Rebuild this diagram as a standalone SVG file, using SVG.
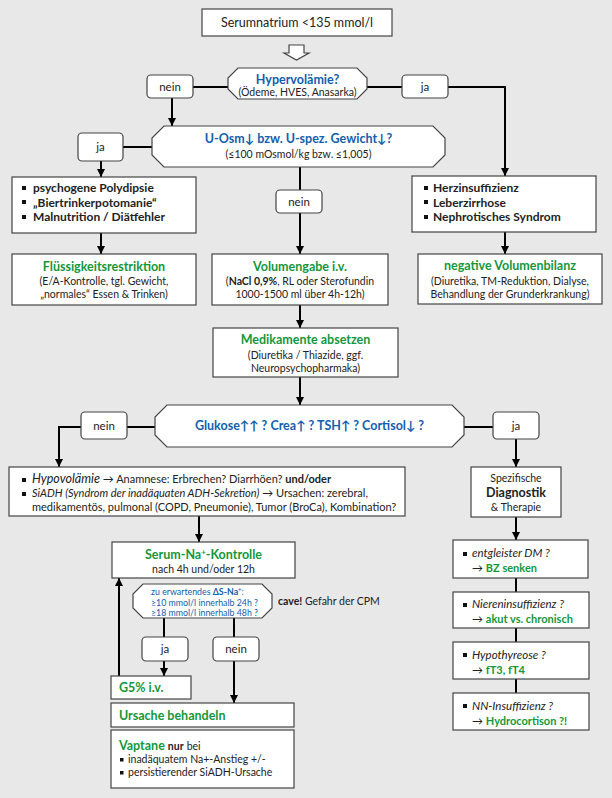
<svg xmlns="http://www.w3.org/2000/svg" width="612" height="798" viewBox="0 0 612 798">
<defs>
<marker id="ah" markerUnits="userSpaceOnUse" markerWidth="9" markerHeight="9" refX="8" refY="4.5" orient="auto">
<path d="M0,0.5 L8,4.5 L0,8.5 Z" fill="#000"/>
</marker>
<style>
text{font-family:Lato,"Open Sans","Liberation Sans",sans-serif;fill:#222;}
.box{fill:#fff;stroke:#444;stroke-width:1.2;}
.lbl{fill:#fff;stroke:#444;stroke-width:1.2;}
.c{fill:none;stroke:#000;stroke-width:2;}
.a{marker-end:url(#ah);}
.t{font-size:12.5px;font-weight:bold;}
.blue{fill:#1160ad;}
.green{fill:#14973a;}
.s{font-size:10.5px;}
.b{font-size:12px;font-weight:bold;}
.m{text-anchor:middle;}
.bul{fill:#111;}
</style>
</defs>
<rect width="612" height="798" fill="#e8e8e8"/>

<g id="connectors">
<path class="c" d="M193 87 H228"/>
<path class="c" d="M367 87 H402"/>
<path class="c a" d="M448 87 H505 V176"/>
<path class="c a" d="M172 98 V126"/>
<path class="c" d="M123 147 H152"/>
<path class="c a" d="M101 161 V177"/>
<path class="c" d="M300 167 V190"/>
<path class="c a" d="M300 213 V254"/>
<path class="c a" d="M101 233 V254"/>
<path class="c a" d="M505 232 V254"/>
<path class="c a" d="M300 305 V328"/>
<path class="c a" d="M300 377 V405"/>
<path class="c" d="M155 427 H127"/>
<path class="c a" d="M81 427 H59 V467"/>
<path class="c" d="M464 427 H493"/>
<path class="c a" d="M516 439 V467"/>
<path class="c a" d="M516 517 V540"/>
<path class="c" d="M516 578 V592"/>
<path class="c" d="M516 628 V642"/>
<path class="c" d="M516 679 V693"/>
<path class="c a" d="M199 516 V542"/>
<path class="c" d="M164 618 V637"/>
<path class="c" d="M234 618 V637"/>
<path class="c a" d="M164 661 V676"/>
<path class="c a" d="M234 661 V703"/>
<path class="c a" d="M119 676 V578"/>
</g>

<g id="start">
<rect class="box" x="202" y="9" width="190" height="27"/>
<text class="m" x="297" y="27" font-size="12.5">Serumnatrium &lt;135 mmol/l</text>
<path d="M289 45 H304 V53 H309 L296.5 60 L284 53 H289 Z" fill="#fff" stroke="#444" stroke-width="1.2"/>
</g>

<g id="hypervol">
<path class="box" d="M238 68 H357 L367 78 V89 L357 99 H238 L228 89 V78 Z"/>
<text class="m t blue" x="297.5" y="84">Hypervolämie?</text>
<text class="m s" x="297.5" y="95.5">(Ödeme, HVES, Anasarka)</text>
</g>
<g id="nein1"><rect class="lbl" x="147" y="75" width="46" height="23" rx="4"/><text class="m" x="170" y="91" font-size="11.5">nein</text></g>
<g id="ja1"><rect class="lbl" x="402" y="75" width="46" height="23" rx="4"/><text class="m" x="425" y="91" font-size="11.5">ja</text></g>

<g id="uosm">
<path class="box" d="M164 126 H433 L445 138 V155 L433 167 H164 L152 155 V138 Z"/>
<text class="m t blue" x="298.5" y="143">U-Osm↓ bzw. U-spez. Gewicht↓?</text>
<text class="m s" x="298.5" y="158">(≤100 mOsmol/kg bzw. ≤1,005)</text>
</g>
<g id="ja2"><rect class="lbl" x="78" y="133" width="45" height="28" rx="4"/><text class="m" x="100.5" y="151" font-size="11.5">ja</text></g>
<g id="nein2"><rect class="lbl" x="276" y="190" width="46" height="23" rx="4"/><text class="m" x="299" y="206" font-size="11.5">nein</text></g>

<g id="psycho">
<rect class="box" x="12" y="177" width="184" height="56"/>
<rect class="bul" x="22" y="186" width="4" height="4"/>
<rect class="bul" x="22" y="200" width="4" height="4"/>
<rect class="bul" x="22" y="215" width="4" height="4"/>
<text class="b" x="33" y="192">psychogene Polydipsie</text>
<text class="b" x="33" y="206.5">„Biertrinkerpotomanie“</text>
<text class="b" x="33" y="221">Malnutrition / Diätfehler</text>
</g>

<g id="herz">
<rect class="box" x="412" y="176" width="184" height="56"/>
<rect class="bul" x="424" y="186" width="4" height="4"/>
<rect class="bul" x="424" y="200" width="4" height="4"/>
<rect class="bul" x="424" y="215" width="4" height="4"/>
<text class="b" x="433" y="192">Herzinsuffizienz</text>
<text class="b" x="433" y="206.5">Leberzirrhose</text>
<text class="b" x="433" y="221">Nephrotisches Syndrom</text>
</g>

<g id="fluessig">
<rect class="box" x="12" y="254" width="184" height="51"/>
<text class="m t green" x="104" y="271">Flüssigkeitsrestriktion</text>
<text class="m s" x="104" y="285">(E/A-Kontrolle, tgl. Gewicht,</text>
<text class="m s" x="104" y="298">„normales“ Essen &amp; Trinken)</text>
</g>

<g id="volumen">
<rect class="box" x="212" y="254" width="176" height="51"/>
<text class="m t green" x="300" y="271">Volumengabe i.v.</text>
<text class="m s" x="300" y="285">(<tspan font-weight="bold">NaCl 0,9%</tspan>, RL oder Sterofundin</text>
<text class="m s" x="300" y="298">1000-1500 ml über 4h-12h)</text>
</g>

<g id="negvol">
<rect class="box" x="418" y="254" width="184" height="50"/>
<text class="m t green" x="510" y="270">negative Volumenbilanz</text>
<text class="m s" x="510" y="284.5">(Diuretika, TM-Reduktion, Dialyse,</text>
<text class="m s" x="510" y="297.5">Behandlung der Grunderkrankung)</text>
</g>

<g id="medikamente">
<rect class="box" x="213" y="328" width="185" height="49"/>
<text class="m t green" x="305.5" y="344">Medikamente absetzen</text>
<text class="m s" x="305.5" y="358.5">(Diuretika / Thiazide, ggf.</text>
<text class="m s" x="305.5" y="371.5">Neuropsychopharmaka)</text>
</g>

<g id="glukose">
<path class="box" d="M167 405 H452 L464 417 V435 L452 447 H167 L155 435 V417 Z"/>
<text class="m t blue" x="309.5" y="430">Glukose↑↑ ? Crea↑ ? TSH↑ ? Cortisol↓ ?</text>
</g>
<g id="nein3"><rect class="lbl" x="81" y="412" width="46" height="27" rx="4"/><text class="m" x="104" y="430" font-size="11.5">nein</text></g>
<g id="ja3"><rect class="lbl" x="493" y="412" width="46" height="27" rx="4"/><text class="m" x="516" y="430" font-size="11.5">ja</text></g>

<g id="hypovol">
<rect class="box" x="9" y="467" width="396" height="49"/>
<rect class="bul" x="22" y="478" width="4" height="4"/>
<rect class="bul" x="22" y="492" width="4" height="4"/>
<text x="32" y="483" font-size="11"><tspan font-style="italic" font-size="12.5">Hypovolämie</tspan> → Anamnese: Erbrechen? Diarrhöen? <tspan font-weight="bold">und/oder</tspan></text>
<text x="32" y="497" font-size="11"><tspan font-style="italic">SiADH (Syndrom der inadäquaten ADH-Sekretion)</tspan> → Ursachen: zerebral,</text>
<text x="32" y="510.5" font-size="11">medikamentös, pulmonal (COPD, Pneumonie), Tumor (BroCa), Kombination?</text>
</g>

<g id="spezifisch">
<rect class="box" x="471" y="467" width="90" height="50"/>
<text class="m" x="516" y="482" font-size="10.5">Spezifische</text>
<text class="m" x="516" y="497" font-size="12.5" font-weight="bold">Diagnostik</text>
<text class="m" x="516" y="511" font-size="10.5">&amp; Therapie</text>
</g>

<g id="dm">
<rect class="box" x="453" y="540" width="135" height="38"/>
<rect class="bul" x="463" y="552" width="4" height="4"/>
<text x="472" y="557" font-size="11.5" font-style="italic">entgleister DM ?</text>
<text x="472" y="572" font-size="11">→ <tspan class="green" font-weight="bold">BZ senken</tspan></text>
</g>
<g id="niere">
<rect class="box" x="453" y="592" width="136" height="36"/>
<rect class="bul" x="463" y="603" width="4" height="4"/>
<text x="472" y="608" font-size="11.5" font-style="italic">Niereninsuffizienz ?</text>
<text x="472" y="623" font-size="11">→ <tspan class="green" font-weight="bold">akut vs. chronisch</tspan></text>
</g>
<g id="hypothyreose">
<rect class="box" x="453" y="642" width="136" height="37"/>
<rect class="bul" x="463" y="653" width="4" height="4"/>
<text x="472" y="659" font-size="11.5" font-style="italic">Hypothyreose ?</text>
<text x="472" y="673.5" font-size="11">→ <tspan class="green" font-weight="bold">fT3, fT4</tspan></text>
</g>
<g id="nn">
<rect class="box" x="453" y="693" width="136" height="37"/>
<rect class="bul" x="463" y="704" width="4" height="4"/>
<text x="472" y="710" font-size="11.5" font-style="italic">NN-Insuffizienz ?</text>
<text x="472" y="724.5" font-size="11">→ <tspan class="green" font-weight="bold">Hydrocortison ?!</tspan></text>
</g>

<g id="serumna">
<rect class="box" x="112" y="542" width="183" height="36"/>
<text class="m t green" x="203.5" y="559">Serum-Na<tspan font-size="8" dy="-4">+</tspan><tspan dy="4">-Kontrolle</tspan></text>
<text class="m s" x="203.5" y="573">nach 4h und/oder 12h</text>
</g>

<g id="delta">
<path class="box" d="M143 584 H262 L272 594 V608 L262 618 H143 L133 608 V594 Z"/>
<text x="151" y="595" font-size="8.8" class="blue">zu erwartendes <tspan font-weight="bold">ΔS-Na</tspan><tspan font-size="6" dy="-3">+</tspan><tspan dy="3">:</tspan></text>
<text x="151" y="605.5" font-size="8.8" class="blue">≥10 mmol/l innerhalb 24h ?</text>
<text x="151" y="616" font-size="8.8" class="blue">≥18 mmol/l innerhalb 48h ?</text>
</g>
<text id="cave" x="278" y="605" font-size="10.5"><tspan font-weight="bold">cave!</tspan> Gefahr der CPM</text>

<g id="ja4"><rect class="lbl" x="142" y="637" width="46" height="24" rx="4"/><text class="m" x="165" y="653" font-size="11.5">ja</text></g>
<g id="nein4"><rect class="lbl" x="213" y="637" width="46" height="24" rx="4"/><text class="m" x="236" y="653" font-size="11.5">nein</text></g>

<g id="g5">
<rect class="box" x="111" y="676" width="80" height="23"/>
<text x="119" y="692" class="t green">G5% i.v.</text>
</g>
<g id="ursache">
<rect class="box" x="111" y="703" width="183" height="24"/>
<text x="119" y="719.5" class="t green">Ursache behandeln</text>
</g>
<g id="vaptane">
<rect class="box" x="111" y="730" width="183" height="58"/>
<text x="119" y="750" class="t green">Vaptane <tspan fill="#222" font-size="10.5">nur</tspan> <tspan fill="#222" font-size="10.5" font-weight="normal">bei</tspan></text>
<rect class="bul" x="120" y="758" width="3.5" height="3.5"/>
<rect class="bul" x="120" y="771" width="3.5" height="3.5"/>
<text x="128" y="763" font-size="10.5">inadäquatem Na+-Anstieg +/-</text>
<text x="128" y="776" font-size="10.5">persistierender SiADH-Ursache</text>
</g>
</svg>
